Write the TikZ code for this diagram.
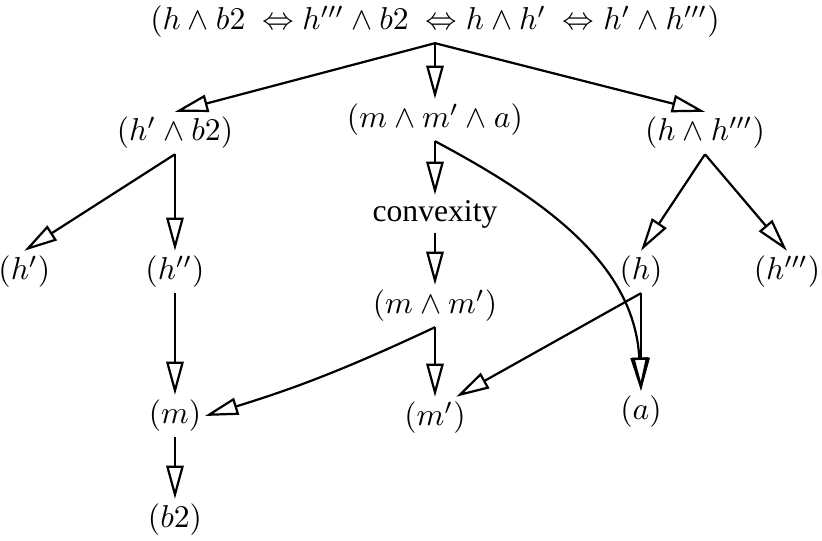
\documentclass[tikz,border=0pt]{standalone}
\usepackage{fontspec}
\setmainfont{Liberation Serif}
\usetikzlibrary{arrows.meta}
\begin{document}
\begin{tikzpicture}[
    lbl/.style={inner xsep=1pt, inner ysep=1.5pt},
    arrow/.style={-{Triangle[open, length=10.5pt, width=5.5pt]}, line width=0.7pt}
]
\useasboundingbox (0,0) rectangle (9.133,-6.0);
% Top
\node[lbl] (top) at (4.833,-0.244) {$(h \wedge b2\ \Leftrightarrow h''' \wedge b2\ \Leftrightarrow h \wedge h'\ \Leftrightarrow h' \wedge h''')$};

% Second row
\node[lbl] (hb) at (1.944,-1.478) {$(h' \wedge b2)$};
\node[lbl] (mma) at (4.833,-1.333) {$(m \wedge m' \wedge a)$};
\node[lbl] (hh) at (7.833,-1.478) {$(h \wedge h''')$};
\node[lbl] (conv) at (4.833,-2.378) {convexity};

% Third row
\node[lbl] (hp) at (0.27,-3.022) {$(h')$};
\node[lbl] (hpp) at (1.944,-3.022) {$(h'')$};
\node[lbl] (h) at (7.122,-3.022) {$(h)$};
\node[lbl] (hppp) at (8.744,-3.022) {$(h''')$};
\node[lbl] (mm) at (4.833,-3.4) {$(m \wedge m')$};

% Bottom
\node[lbl] (m) at (1.944,-4.622) {$(m)$};
\node[lbl] (mp) at (4.833,-4.644) {$(m')$};
\node[lbl] (a) at (7.122,-4.578) {$(a)$};
\node[lbl] (b2) at (1.944,-5.778) {$(b2)$};

% Arrows
\draw[arrow] (top.south) -- (hb.north);
\draw[arrow] (top.south) -- (mma.north);
\draw[arrow] (top.south) -- (hh.north);
\draw[arrow] (hb.south) -- (hp.north);
\draw[arrow] (hb.south) -- (hpp.north);
\draw[arrow] (mma.south) -- (conv.north);
\draw[arrow] (mma.south) to[out=-28, in=93] (a.north);
\draw[arrow] (conv.south) -- (mm.north);
\draw[arrow] (hh.south) -- (h.north);
\draw[arrow] (hh.south) -- (hppp.north);
\draw[arrow] (hpp.south) -- (m.north);
\draw[arrow] (mm.south) to[bend left=4] (m.east);
\draw[arrow] (mm.south) -- (mp.north);
\draw[arrow] (h.south) -- (mp.45);
\draw[arrow] (h.south) -- (a.north);
\draw[arrow] (m.south) -- (b2.north);
\end{tikzpicture}
\end{document}
